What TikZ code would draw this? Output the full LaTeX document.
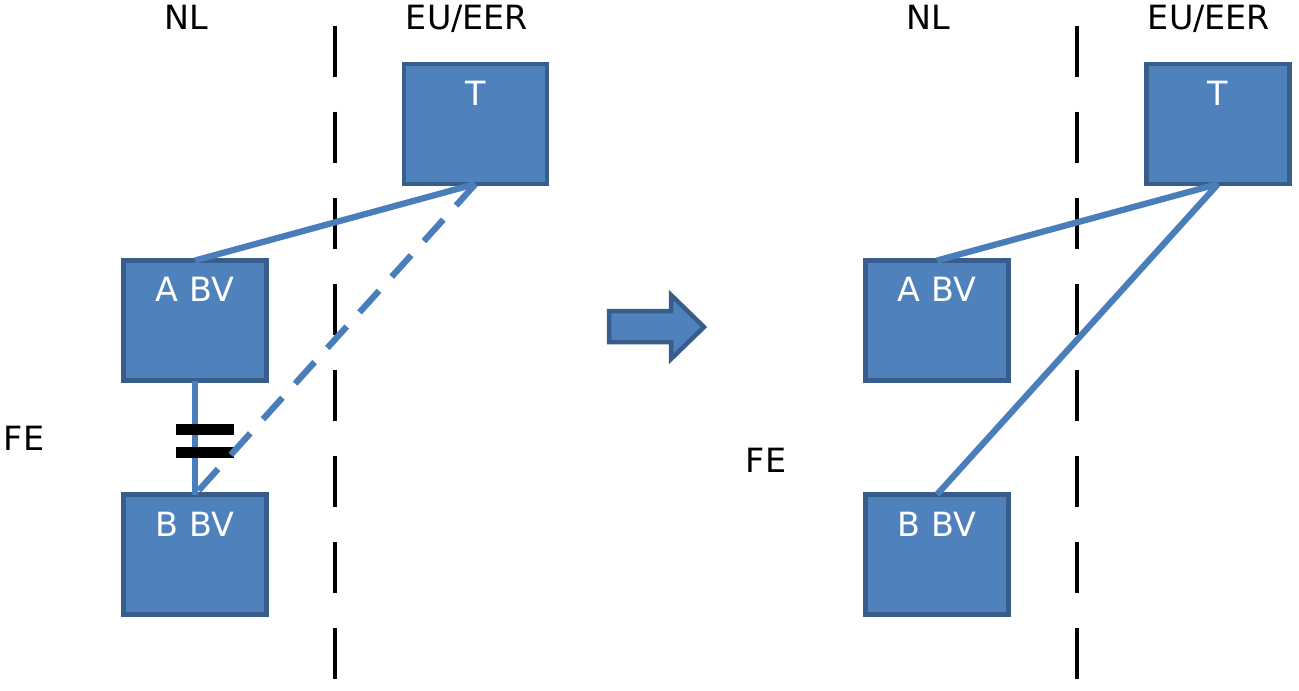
\documentclass[tikz,border=0pt]{standalone}
\usepackage{fontspec}
\setmainfont{DejaVu Sans}
\definecolor{BoxFill}{RGB}{79,129,189}
\definecolor{BoxBorder}{RGB}{56,93,138}
\definecolor{LinkColor}{RGB}{74,126,187}
\usetikzlibrary{positioning, arrows.meta}

\begin{document}
\begin{tikzpicture}[x=0.2mm, y=-0.2mm,
    every node/.style={font=\fontsize{19}{23}\selectfont},
    entity/.style={draw=BoxBorder, fill=BoxFill, line width=0.9mm, minimum width=28.6mm, minimum height=24mm, inner sep=0, outer sep=0},
    boxlabel/.style={white, anchor=base, inner sep=0, yshift=-8.3mm},
    region/.style={anchor=base, inner sep=0},
    link/.style={LinkColor, line width=1.25mm},
    border/.style={black, line width=0.95mm, dash pattern=on 10.2mm off 7mm}]
          \useasboundingbox (0,0) rectangle (1299,691);
          \coordinate (d1top) at (335,26);
          \coordinate (d1bot) at (335,680);
          \coordinate (d2top) at (1077,26);
          \coordinate (d2bot) at (1077,680);
          \draw[border] (d1top) -- (d1bot);
          \draw[border] (d2top) -- (d2bot);
          \node[region] (nl1) at (186,30) {NL};
          \node[region] (eu1) at (467,30) {EU/EER};
          \node[region] (nl2) at (928,30) {NL};
          \node[region] (eu2) at (1209,30) {EU/EER};
          \node[region] (fe1) at (24,450) {FE};
          \node[region] (fe2) at (766,472) {FE};
          \node[entity, label={[boxlabel]north:T}] (t1) at (475.5,124) {};
          \node[entity, label={[boxlabel]north:A BV}] (a1) at (195,320.5) {};
          \node[entity, label={[boxlabel]north:B BV}] (b1) at (195,554.5) {};
          \node[entity, label={[boxlabel]north:T}] (t2) at (1218,124) {};
          \node[entity, label={[boxlabel]north:A BV}] (a2) at (937,320.5) {};
          \node[entity, label={[boxlabel]north:B BV}] (b2) at (937,554.5) {};
          \draw[link] (t1.south) -- (a1.north);
          \draw[link] (a1.south) -- (b1.north);
          \fill[black] (176,424) rectangle (234,435);
          \fill[black] (176,447) rectangle (234,458);
          \draw[link, dash pattern=on 5.8mm off 3.8mm] (t1.south) -- (b1.north);
          \draw[link] (t2.south) -- (a2.north);
          \draw[link] (t2.south) -- (b2.north);
          \draw[draw=BoxBorder, fill=BoxFill, line width=0.9mm] (609,311) -- (671,311) -- (671,295) -- (704,327) -- (671,359) -- (671,342) -- (609,342) -- cycle;
        \end{tikzpicture}
\end{document}
